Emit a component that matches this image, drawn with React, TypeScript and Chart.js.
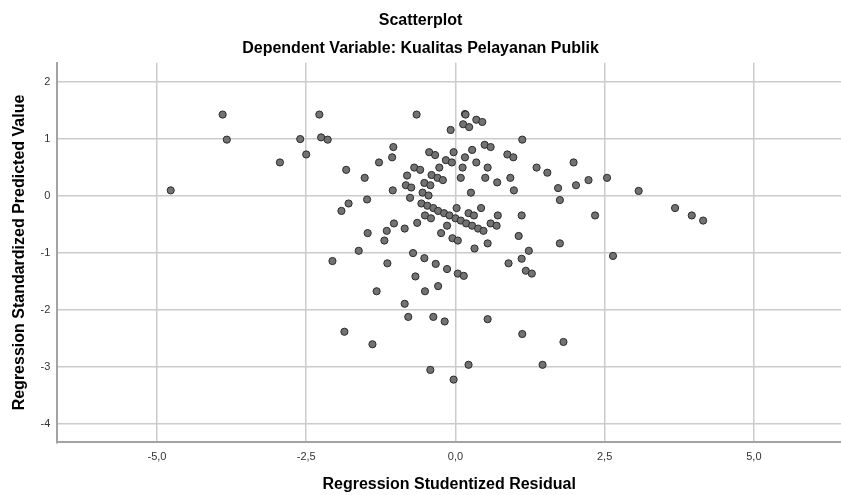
import React, { useEffect, useRef } from "react";
import { Chart, registerables } from "chart.js";

Chart.register(...registerables);

const titleText = "Scatterplot";
const subtitleText = "Dependent Variable: Kualitas Pelayanan Publik";
const xAxisTitle = "Regression Studentized Residual";
const yAxisTitle = "Regression Standardized Predicted Value";

// Regression Studentized Residual (x)
const residuals: number[] = [
  -4.77, -3.90, -3.83, -2.94, -2.60, -2.50, -2.28, -2.25, -2.14, -2.06,
  -1.91, -1.83, -1.79, -1.86, -1.62, -1.52, -1.48, -1.47, -1.39, -1.32,
  -1.28, -1.19, -1.15, -1.14, -1.06, -1.05, -1.04, -1.03, -0.85, -0.85,
  -0.83, -0.81, -0.79, -0.76, -0.74, -0.71, -0.69, -0.67, -0.65, -0.64,
  -0.59, -0.57, -0.55, -0.52, -0.52, -0.51, -0.51, -0.47, -0.45, -0.44,
  -0.42, -0.42, -0.41, -0.40, -0.37, -0.37, -0.34, -0.33, -0.30, -0.29,
  -0.29, -0.27, -0.24, -0.21, -0.19, -0.18, -0.16, -0.14, -0.14, -0.10,
  -0.08, -0.06, -0.05, -0.03, -0.03, 0.00, 0.02, 0.04, 0.04, 0.09,
  0.09, 0.12, 0.13, 0.14, 0.16, 0.17, 0.16, 0.18, 0.22, 0.22,
  0.23, 0.26, 0.28, 0.28, 0.31, 0.32, 0.35, 0.35, 0.38, 0.43,
  0.45, 0.47, 0.49, 0.50, 0.54, 0.54, 0.54, 0.59, 0.59, 0.69,
  0.70, 0.71, 0.87, 0.89, 0.92, 0.97, 0.98, 1.06, 1.11, 1.11,
  1.12, 1.12, 1.18, 1.23, 1.28, 1.36, 1.46, 1.54, 1.72, 1.75,
  1.75, 1.81, 1.98, 2.02, 2.23, 2.34, 2.54, 2.64, 3.07, 3.68,
  3.96, 4.15,
];

// Regression Standardized Predicted Value (y)
const predicted: number[] = [
  0.09, 1.42, 0.98, 0.58, 0.99, 0.72, 1.42, 1.02, 0.98, -1.15,
  -0.27, 0.45, -0.14, -2.39, -0.97, 0.31, -0.07, -0.66, -2.61, -1.68,
  0.58, -0.79, -0.62, -1.19, 0.67, 0.09, 0.85, -0.49, -1.90, -0.58,
  0.18, 0.35, -2.13, -0.04, 0.14, -1.01, 0.49, -1.42, 1.42, -0.48,
  0.45, -0.14, 0.05, 0.22, -1.10, -0.35, -1.68, -0.18, 0.00, 0.76,
  -3.06, 0.18, -0.40, 0.36, -0.22, -2.13, 0.71, -1.20, 0.31, -1.59,
  -0.27, 0.49, -0.66, 0.27, -0.31, -2.21, 0.62, -1.29, -0.53, -0.35,
  1.15, 0.58, -0.75, -3.23, 0.76, -0.40, -0.22, -0.79, -1.37, 0.31,
  -0.44, 0.49, 1.25, -1.41, 1.43, 1.42, 0.67, -0.49, -0.31, -2.97,
  1.20, 0.05, 0.80, -0.53, -0.35, -0.93, 1.33, 0.58, -0.58, -0.22,
  1.29, -0.62, 0.89, 0.31, 0.49, -0.84, -2.17, 0.85, -0.49, -0.53,
  0.23, -0.35, 0.72, -1.19, 0.31, 0.67, 0.09, -0.71, -1.11, -0.35,
  0.98, -2.43, -1.32, -0.97, -1.37, 0.49, -2.97, 0.40, 0.13, -0.08,
  -0.84, -2.57, 0.58, 0.18, 0.27, -0.35, 0.31, -1.06, 0.08, -0.22,
  -0.35, -0.44,
];

const xMin = -6.67;
const xMax = 6.46;
const xStep = 2.5;
const yMin = -4.33;
const yMax = 2.33;
const yStep = 1;

const FONT = '"Liberation Sans", Arial, sans-serif';

export default function App() {
  const canvasRef = useRef<HTMLCanvasElement | null>(null);

  useEffect(() => {
    document.body.style.margin = "0";
    const canvas = canvasRef.current;
    if (!canvas) return;
    const points = residuals.map((x, i) => ({ x, y: predicted[i] }));
    const chart = new Chart(canvas, {
      type: "scatter",
      data: {
        datasets: [
          {
            data: points,
            backgroundColor: "#727272",
            borderColor: "#2b2b2b",
            borderWidth: 1,
            pointRadius: 3.6,
            pointHoverRadius: 3.6,
          },
        ],
      },
      options: {
        animation: false,
        responsive: true,
        maintainAspectRatio: false,
        layout: { autoPadding: false, padding: { left: 0, right: 0, top: 0, bottom: 0 } },
        plugins: {
          legend: { display: false },
          tooltip: { enabled: false },
          title: {
            display: true,
            text: titleText,
            color: "#000000",
            font: { family: FONT, size: 16, weight: "bold" },
            padding: { top: 11.2, bottom: 8.8 },
          },
          subtitle: {
            display: true,
            text: subtitleText,
            color: "#000000",
            font: { family: FONT, size: 16, weight: "bold" },
            padding: { top: 0, bottom: 4.3 },
          },
        },
        scales: {
          x: {
            type: "linear",
            min: xMin,
            max: xMax,
            afterFit: (scale: any) => {
              scale.height = 52.7;
            },
            ticks: {
              stepSize: xStep,
              includeBounds: false,
              padding: 8,
              color: "#333333",
              font: { family: FONT, size: 11 },
              callback: (v: any) => Number(v).toFixed(1).replace(".", ","),
            },
            grid: {
              color: "#cbcbcb",
              lineWidth: 1.5,
              drawTicks: false,
            },
            border: { display: true, color: "#a3a3a3", width: 2 },
            title: {
              display: true,
              text: xAxisTitle,
              color: "#000000",
              font: { family: FONT, size: 16, weight: "bold" },
              padding: { top: 0, bottom: 0.5 },
            },
          },
          y: {
            type: "linear",
            min: yMin,
            max: yMax,
            afterFit: (scale: any) => {
              scale.width = 57.3;
            },
            ticks: {
              stepSize: yStep,
              includeBounds: false,
              padding: 7,
              color: "#333333",
              font: { family: FONT, size: 11 },
              callback: (v: any) => String(Math.round(Number(v))),
            },
            grid: {
              color: "#cbcbcb",
              lineWidth: 1.5,
              drawTicks: false,
            },
            border: { display: true, color: "#a3a3a3", width: 2 },
            title: {
              display: true,
              text: yAxisTitle,
              color: "#000000",
              font: { family: FONT, size: 16, weight: "bold" },
              padding: { top: 9.5, bottom: 0 },
            },
          },
        },
      },
    });
    return () => chart.destroy();
  }, []);

  return (
    <div style={{ position: "absolute", left: 0, top: 0, width: "841px", height: "495px" }}>
      <canvas ref={canvasRef} />
    </div>
  );
}
